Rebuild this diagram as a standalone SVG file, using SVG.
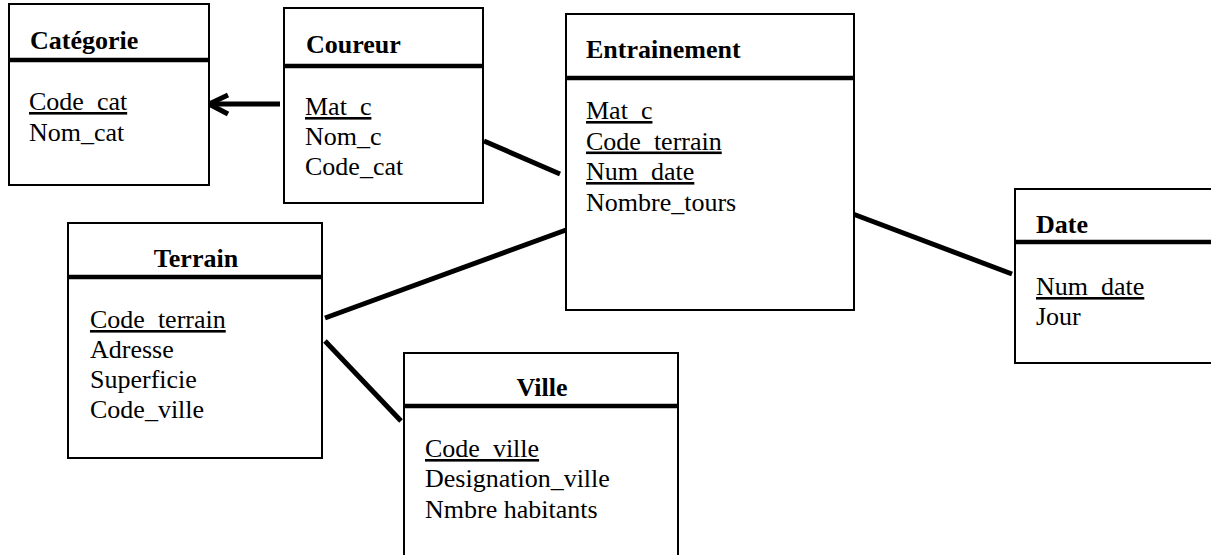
<svg xmlns="http://www.w3.org/2000/svg" width="1211" height="555" viewBox="0 0 1211 555">
<style>
.box{fill:#fff;stroke:#000;stroke-width:2}
.hd{stroke:#000;stroke-width:4.5}
.t{font-family:"Liberation Serif","Times New Roman",serif;font-size:26px;fill:#000}
.b{font-weight:bold}
.u{text-decoration:underline}
.c{fill:none;stroke:#000;stroke-width:5}
</style>
<rect width="1211" height="555" fill="#fff"/>
<g id="connectors">
<line class="c" x1="280" y1="104" x2="210" y2="104"/>
<polyline class="c" points="228,95 209,104 228,114" stroke-linejoin="miter"/>
<line class="c" x1="484" y1="141" x2="560" y2="174"/>
<line class="c" x1="325" y1="318" x2="566" y2="230"/>
<line class="c" x1="325" y1="341" x2="401" y2="421"/>
<line class="c" x1="853" y1="214" x2="1012" y2="274"/>
</g>
<g id="categorie">
<rect class="box" x="9" y="4" width="200" height="181"/>
<line class="hd" x1="9" y1="60" x2="209" y2="60"/>
<text class="t b" x="30" y="49">Catégorie</text>
<text class="t u" x="29" y="110">Code_cat</text>
<text class="t" x="29" y="141">Nom_cat</text>
</g>
<g id="coureur">
<rect class="box" x="284" y="8" width="199" height="195"/>
<line class="hd" x1="284" y1="66" x2="483" y2="66"/>
<text class="t b" x="306" y="53">Coureur</text>
<text class="t u" x="305" y="115">Mat_c</text>
<text class="t" x="305" y="145">Nom_c</text>
<text class="t" x="305" y="175">Code_cat</text>
</g>
<g id="entrainement">
<rect class="box" x="566" y="14" width="288" height="296"/>
<line class="hd" x1="566" y1="78" x2="854" y2="78"/>
<text class="t b" x="586" y="58">Entrainement</text>
<text class="t u" x="586" y="119">Mat_c</text>
<text class="t u" x="586" y="149.5">Code_terrain</text>
<text class="t u" x="586" y="180">Num_date</text>
<text class="t" x="586" y="210.5">Nombre_tours</text>
</g>
<g id="date">
<rect class="box" x="1015" y="189" width="210" height="174"/>
<line class="hd" x1="1015" y1="242" x2="1211" y2="242"/>
<text class="t b" x="1036" y="233">Date</text>
<text class="t u" x="1036" y="295">Num_date</text>
<text class="t" x="1036" y="325">Jour</text>
</g>
<g id="terrain">
<rect class="box" x="68" y="223" width="254" height="235"/>
<line class="hd" x1="68" y1="277" x2="322" y2="277"/>
<text class="t b" x="196" y="267" text-anchor="middle">Terrain</text>
<text class="t u" x="90" y="328">Code_terrain</text>
<text class="t" x="90" y="358">Adresse</text>
<text class="t" x="90" y="388">Superficie</text>
<text class="t" x="90" y="418">Code_ville</text>
</g>
<g id="ville">
<rect class="box" x="404" y="353" width="274" height="220"/>
<line class="hd" x1="404" y1="406" x2="678" y2="406"/>
<text class="t b" x="542" y="396" text-anchor="middle">Ville</text>
<text class="t u" x="425" y="457">Code_ville</text>
<text class="t" x="425" y="487">Designation_ville</text>
<text class="t" x="425" y="518">Nmbre habitants</text>
</g>
</svg>
